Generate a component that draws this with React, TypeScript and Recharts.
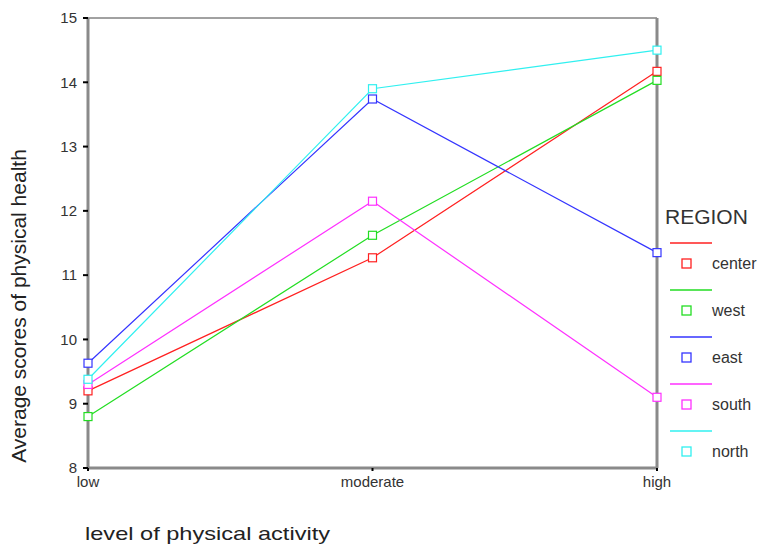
import * as React from 'react';
import { LineChart, Line, XAxis, YAxis, ReferenceLine } from 'recharts';

const activity = ['low', 'moderate', 'high'];
const center = [9.2, 11.27, 14.17];
const west = [8.8, 11.62, 14.03];
const east = [9.63, 13.74, 11.35];
const south = [9.3, 12.15, 9.1];
const north = [9.38, 13.9, 14.5];
const yTicks = [8, 9, 10, 11, 12, 13, 14, 15];

const regions = [
  { key: 'center', color: '#ff2020', values: center },
  { key: 'west', color: '#22dd22', values: west },
  { key: 'east', color: '#3535ff', values: east },
  { key: 'south', color: '#ff30ff', values: south },
  { key: 'north', color: '#30f0f0', values: north },
];

const data = activity.map((a, i) => {
  const row: any = { activity: a };
  regions.forEach((r) => (row[r.key] = r.values[i]));
  return row;
});

const font = 'Liberation Sans, Arial, sans-serif';

function SquareDot(props: any) {
  const { cx, cy, stroke } = props;
  if (cx == null || cy == null) return null;
  return <rect x={cx - 4} y={cy - 4} width={8} height={8} fill="#fff" stroke={stroke} strokeWidth={1.2} />;
}

function Legendbox() {
  return (
    <svg width={110} height={280} style={{ position: 'absolute', left: 653, top: 195 }}>
      <text x={12} y={29} fontSize={21} fill="#333" fontFamily={font}>REGION</text>
      {regions.map((r, i) => (
        <g key={r.key}>
          <line x1={17} x2={59} y1={48 + 47 * i} y2={48 + 47 * i} stroke={r.color} strokeWidth={1.5} />
          <rect x={29} y={64 + 47 * i} width={9} height={9} fill="#fff" stroke={r.color} strokeWidth={1.3} />
          <text x={59} y={74 + 47 * i} fontSize={16} fill="#333" fontFamily={font}>{r.key}</text>
        </g>
      ))}
    </svg>
  );
}

export default function App() {
  return (
    <div style={{ position: 'absolute', left: 0, top: 0, width: 763, height: 546, background: '#fff' }}>
      <LineChart width={763} height={546} data={data} margin={{ top: 18, right: 106, bottom: 48, left: 0 }}>
        <XAxis
          dataKey="activity"
          axisLine={{ stroke: '#8a8a8a', strokeWidth: 3 }}
          tickLine={{ stroke: '#000', strokeWidth: 2 }}
          tickSize={3}
          tickMargin={5}
          tick={{ fontSize: 15, fill: '#333', fontFamily: font }}
          height={30}
          label={{
            content: () => (
              <text x={85} y={540} fontSize={19} textLength={245} lengthAdjust="spacingAndGlyphs" fill="#222" fontFamily={font}>
                level of physical activity
              </text>
            ),
          }}
        />
        <YAxis
          domain={[8, 15]}
          ticks={yTicks}
          width={88}
          axisLine={{ stroke: '#8a8a8a', strokeWidth: 3 }}
          tickLine={{ stroke: '#000', strokeWidth: 2 }}
          tickSize={5}
          tickMargin={6}
          tick={{ fontSize: 15, fill: '#333', fontFamily: font }}
          label={{
            content: () => (
              <text x={26} y={306} transform="rotate(-90, 26, 306)" textAnchor="middle" fontSize={21} fill="#222" fontFamily={font}>
                Average scores of physical health
              </text>
            ),
          }}
        />
        <ReferenceLine y={15} stroke="#444" strokeWidth={1} />
        {regions.map((r) => (
          <Line
            key={r.key}
            dataKey={r.key}
            stroke={r.color}
            strokeWidth={1.2}
            dot={<SquareDot />}
            activeDot={false}
            isAnimationActive={false}
          />
        ))}
        <ReferenceLine x="high" stroke="#8a8a8a" strokeWidth={3} />
      </LineChart>
      <Legendbox />
    </div>
  );
}
